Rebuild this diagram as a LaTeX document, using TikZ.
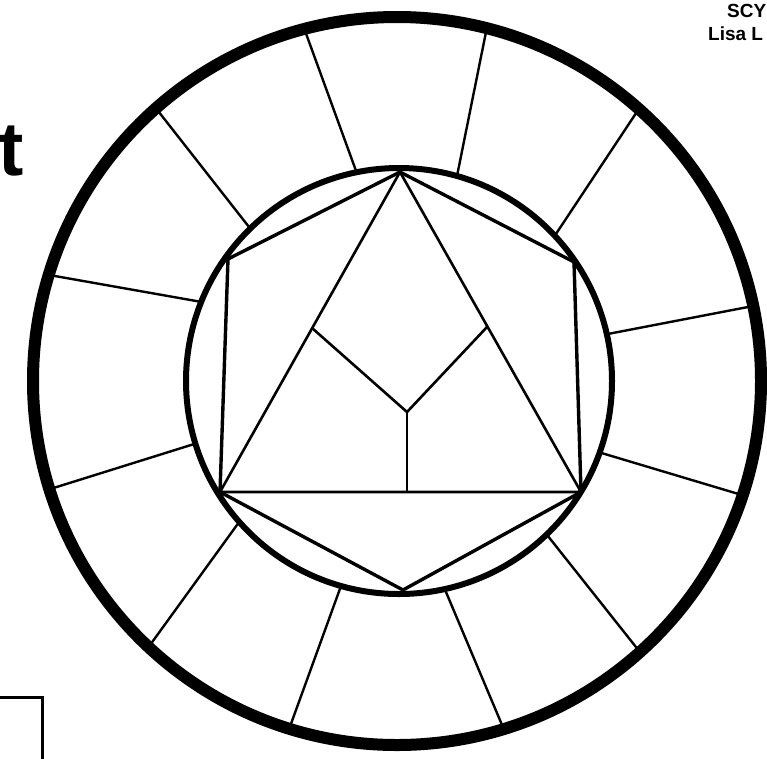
\documentclass[tikz,border=0pt]{standalone}
\usepackage{fontspec}
\setmainfont{Liberation Sans}
\usetikzlibrary{calc}
\tikzset{
  rim/.style={line width=12pt},
  hub/.style={line width=6pt},
  spoke/.style={line width=2.4pt},
  hexedge/.style={line width=3.4pt,line join=round},
  triedge/.style={line width=2.6pt,line join=round},
  tag/.style={font=\bfseries\fontsize{19}{22}\selectfont,anchor=base west,inner sep=0pt}
}
\begin{document}
\begin{tikzpicture}[x=1pt,y=-1pt]
  \useasboundingbox (0,0) rectangle (767,758);
  \fill[white] (0,0) rectangle (767,758);
  % wheel
  \coordinate (rimc) at (397,381);
  \coordinate (hubc) at (399,381);
  \draw[rim] (rimc) circle[radius=364];
  \draw[hub] (hubc) circle[radius=213];
  \foreach \ao/\ai in {-104.7/-101.5,-75.7/-74.2,-48.3/-43,-11.9/-12.7,18.3/19.6,48.1/46.1,
                       73/77.6,107.2/105.8,133.1/138.6,162.7/162.9,-163/-158.2,-131.5/-134.3}
    \draw[spoke] ($(hubc)+(\ai:213)$) -- ($(rimc)+(\ao:361)$);
  % hexagon and triangle
  \coordinate (top) at (400,172);
  \coordinate (ul) at (228,259);
  \coordinate (ur) at (574,262);
  \coordinate (lr) at (581,492);
  \coordinate (bot) at (403,590);
  \coordinate (ll) at (220,492);
  \draw[hexedge] (top) -- (ur) -- (lr) -- (bot) -- (ll) -- (ul) -- cycle;
  \draw[triedge] (top) -- (ll) -- (lr) -- cycle;
  \coordinate (mid) at (407,412);
  \coordinate (armL) at (312,328);
  \coordinate (armR) at (487,327);
  \coordinate (foot) at (407,492);
  \draw[triedge] (armL) -- (mid) -- (armR);
  \draw[triedge] (mid) -- (foot);
  % page bits
  \node[tag] (scy) at (727,17) {SCY};
  \node[tag] (lisa) at (708,40) {Lisa L};
  \node[font=\bfseries\fontsize{76}{80}\selectfont,anchor=base east,inner sep=0pt] (tee) at (24,175) {t};
  \coordinate (boxa) at (-5,697);
  \coordinate (boxb) at (42,697);
  \coordinate (boxc) at (42,765);
  \draw[line width=3pt] (boxa) -- (boxb) -- (boxc);
\end{tikzpicture}
\end{document}
